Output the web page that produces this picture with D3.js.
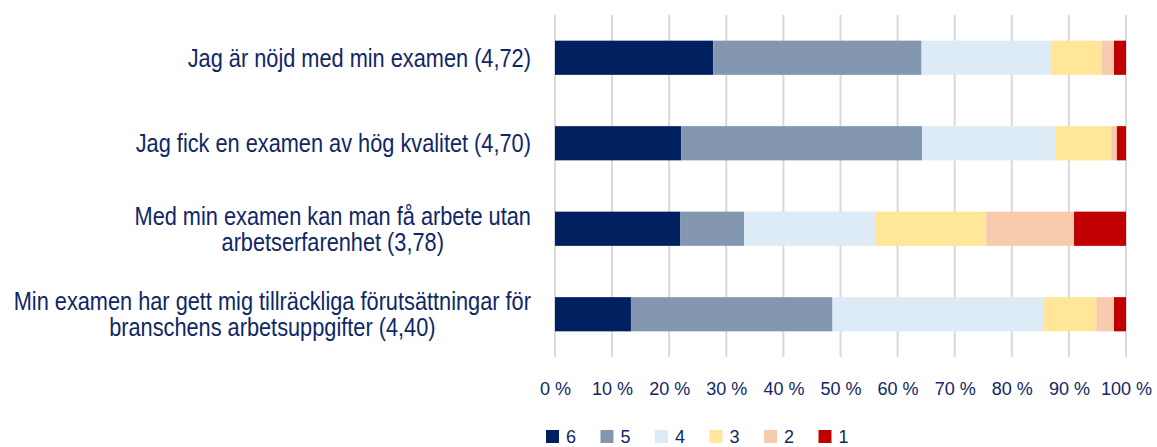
<!DOCTYPE html>
<html>
<head>
<meta charset="utf-8">
<script src="https://cdn.jsdelivr.net/npm/d3@7"></script>
<style>
  body { margin: 0; background: #fff; }
  svg { display: block; }
</style>
</head>
<body>
<div id="chart"></div>
<script>
// Data (share of answers per grade, %)
var questions = [
  ["Jag är nöjd med min examen (4,72)"],
  ["Jag fick en examen av hög kvalitet (4,70)"],
  ["Med min examen kan man få arbete utan", "arbetserfarenhet (3,78)"],
  ["Min examen har gett mig tillräckliga förutsättningar för", "branschens arbetsuppgifter (4,40)"]
]
var grades = ["6", "5", "4", "3", "2", "1"]
var grade6 = [27.7, 22.1, 21.9, 13.3]
var grade5 = [36.5, 42.2, 11.2, 35.3]
var grade4 = [22.6, 23.4, 23.0, 37.0]
var grade3 = [9.0, 9.7, 19.4, 9.2]
var grade2 = [2.1, 1.0, 15.4, 3.1]
var grade1 = [2.1, 1.6, 9.1, 2.1]
var ticks = [0, 10, 20, 30, 40, 50, 60, 70, 80, 90, 100]

var colors = ["#002060", "#8497B0", "#DDEBF7", "#FFE699", "#F8CBAD", "#C00000"]
var textColor = "#0F2766"

var width = 1157
var height = 447
var plotLeft = 555, plotRight = 1126, plotTop = 15, plotBottom = 357

// build rows for stacking
var series = [grade6, grade5, grade4, grade3, grade2, grade1]
var rows = questions.map(function (q, i) {
  var r = { idx: i }
  grades.forEach(function (g, k) { r[g] = series[k][i] })
  return r
})
var stacked = d3.stack().keys(grades)(rows)

var svg = d3.select("#chart").append("svg")
  .attr("width", width)
  .attr("height", height)

var x = d3.scaleLinear().domain([0, 100]).range([plotLeft, plotRight])
var y = d3.scaleBand().domain(d3.range(questions.length)).range([plotTop, plotBottom]).paddingInner(0.6).paddingOuter(0.3)

// gridlines
svg.append("g")
  .selectAll("line")
  .data(ticks)
  .enter()
  .append("line")
  .attr("x1", function (d) { return x(d) })
  .attr("x2", function (d) { return x(d) })
  .attr("y1", plotTop)
  .attr("y2", plotBottom)
  .attr("stroke", "#D9D9D9")
  .attr("stroke-width", 2)

// bars
svg.append("g")
  .selectAll("g")
  .data(stacked)
  .enter()
  .append("g")
  .attr("fill", function (d, i) { return colors[i] })
  .selectAll("rect")
  .data(function (d) { return d })
  .enter()
  .append("rect")
  .attr("x", function (d) { return x(d[0]) })
  .attr("y", function (d) { return y(d.data.idx) })
  .attr("width", function (d) { return x(d[1]) - x(d[0]) })
  .attr("height", y.bandwidth())

// x axis labels
var xAxis = d3.axisBottom(x)
  .tickValues(ticks)
  .tickSize(0)
  .tickPadding(0)
  .tickFormat(function (d) { return d + " %" })
var gx = svg.append("g")
  .attr("transform", "translate(0," + 395 + ")")
  .call(xAxis)
gx.select(".domain").remove()
gx.selectAll("text")
  .attr("dy", 0)
  .attr("fill", textColor)
  .style("font-family", "'Liberation Sans', Arial, sans-serif")
  .style("font-size", "18px")

// category labels (narrow look: horizontally squeezed)
var squeeze = 0.87
var labels = svg.append("g")
  .selectAll("text")
  .data(questions)
  .enter()
  .append("text")
  .attr("text-anchor", "middle")
  .attr("fill", textColor)
  .style("font-family", "'Liberation Sans', Arial, sans-serif")
  .style("font-size", "25px")
labels.each(function (d) {
  var t = d3.select(this)
  var n = d.length
  d.forEach(function (line, j) {
    t.append("tspan")
      .attr("x", 0)
      .attr("y", (j - (n - 1) / 2) * 26)
      .attr("dy", "0.35em")
      .text(line)
  })
})
// right align the block, center lines inside it
labels.each(function (d, i) {
  var bb = this.getBBox()
  var cy = y(i) + y.bandwidth() / 2
  d3.select(this).attr("transform",
    "translate(" + (531 - bb.width * squeeze / 2) + "," + cy + ") scale(" + squeeze + ",1)")
})

// legend
var legend = svg.append("g")
  .selectAll("g")
  .data(grades)
  .enter()
  .append("g")
  .attr("transform", function (d, i) { return "translate(" + (546 + i * 54.5) + ",430)" })
legend.append("rect")
  .attr("width", 13)
  .attr("height", 13)
  .attr("fill", function (d, i) { return colors[i] })
legend.append("text")
  .attr("x", 20)
  .attr("y", 13)
  .attr("fill", textColor)
  .style("font-family", "'Liberation Sans', Arial, sans-serif")
  .style("font-size", "18px")
  .text(function (d) { return d })
</script>
</body>
</html>
